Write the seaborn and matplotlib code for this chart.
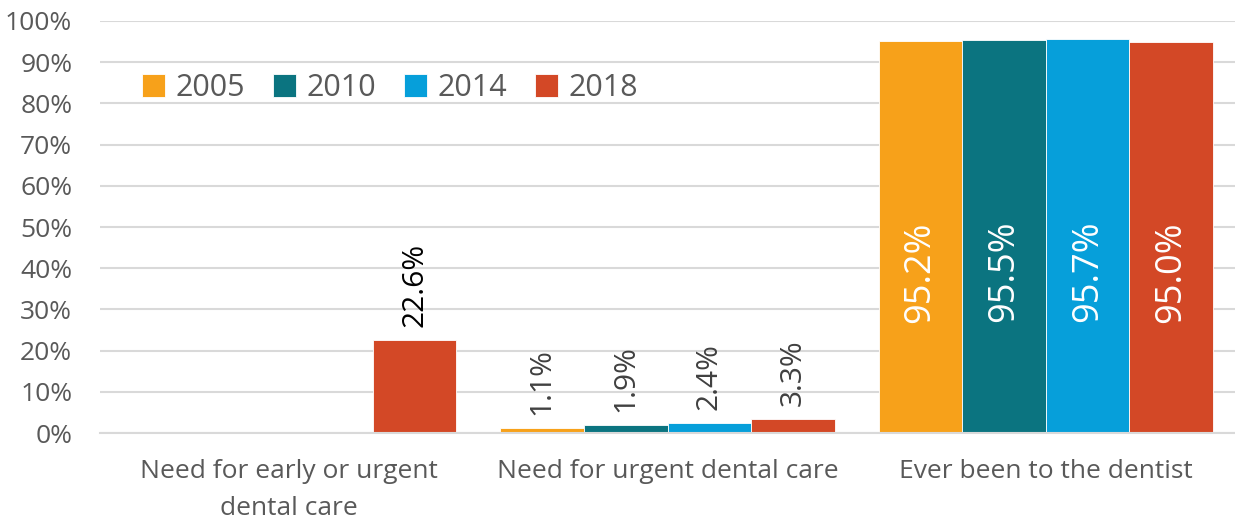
import pandas as pd
import matplotlib
matplotlib.use("Agg")
import matplotlib.pyplot as plt
import seaborn as sns
import matplotlib.ticker as ticker

# Data (percent)
categories = ["Need for early or urgent\ndental care",
              "Need for urgent dental care",
              "Ever been to the dentist"]
years = ["2005", "2010", "2014", "2018"]
vals_2005 = [None, 1.1, 95.2]
vals_2010 = [None, 1.9, 95.5]
vals_2014 = [None, 2.4, 95.7]
vals_2018 = [22.6, 3.3, 95.0]
colors = ["#F7A11A", "#0B7480", "#069FDA", "#D34826"]

rows = []
for year, vals in zip(years, [vals_2005, vals_2010, vals_2014, vals_2018]):
    for cat, v in zip(categories, vals):
        rows.append({"category": cat, "year": year, "value": v})
df = pd.DataFrame(rows).dropna()

sns.set_theme(style="white")
plt.rcParams["font.family"] = ["Open Sans", "DejaVu Sans"]

fig = plt.figure(figsize=(12.35, 5.25), dpi=100)
ax = fig.add_axes([0.081, 0.1752, 0.919, 0.7848])

sns.barplot(data=df, x="category", y="value", hue="year",
            order=categories, hue_order=years, palette=colors,
            width=0.884, gap=0, saturation=1, edgecolor="white",
            linewidth=0.6, ax=ax)

ax.set_xlim(-0.5, 2.5)
ax.set_ylim(0, 100)
ax.yaxis.set_major_locator(ticker.MultipleLocator(10))
ax.yaxis.set_major_formatter(ticker.FuncFormatter(lambda v, p: f"{v:.0f}%"))
ax.grid(axis="y", color="#D9D9D9", linewidth=1.5)
ax.set_axisbelow(True)
for s in ["top", "right", "left"]:
    ax.spines[s].set_visible(False)
ax.spines["bottom"].set_color("#D9D9D9")
ax.spines["bottom"].set_linewidth(1.5)
ax.set_xlabel("")
ax.set_ylabel("")
ax.tick_params(axis="y", labelsize=19, colors="#595959", length=0, pad=20)
ax.tick_params(axis="x", labelsize=19, colors="#595959", length=0, pad=19)
for lbl in ax.get_xticklabels():
    lbl.set_linespacing(1.6)

# data labels
for cont, year in zip(ax.containers, years):
    for bar in cont:
        h = bar.get_height()
        if not h or h != h:
            continue
        x = bar.get_x() + bar.get_width() / 2
        if h > 50:
            ax.text(x, h * 0.41, f"{h:.1f}%", rotation=90, ha="center",
                    va="center", color="white", fontsize=26)
        else:
            col = "#000000" if h > 10 else "#404040"
            ax.text(x, h + 3.2, f"{h:.1f}%", rotation=90, ha="center",
                    va="bottom", color=col, fontsize=21.5)

leg = ax.legend(loc="upper left", bbox_to_anchor=(0.013, 0.94), ncol=4,
                frameon=False, fontsize=22, handlelength=0.75, handleheight=0.75,
                columnspacing=0.9, handletextpad=0.35, labelcolor="#595959")

fig.savefig("out.png", dpi=100)
